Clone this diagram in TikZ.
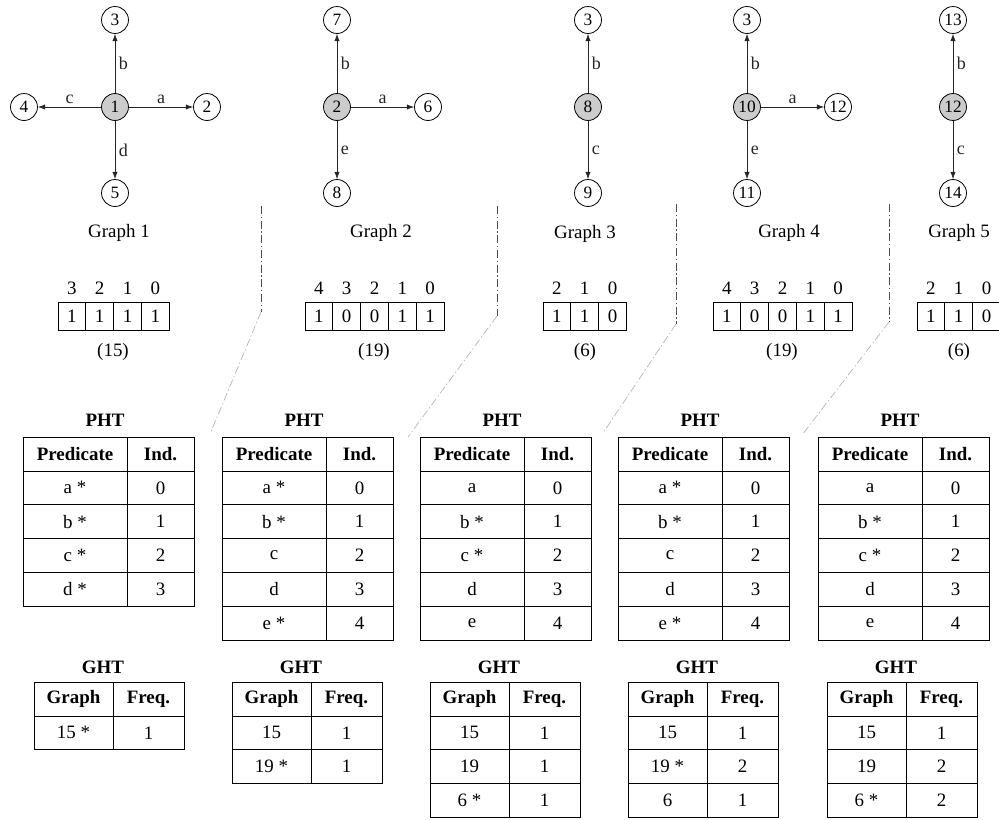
\documentclass[tikz,border=0pt]{standalone}
\usepackage{fontspec}
\setmainfont{Liberation Serif}
\usetikzlibrary{arrows.meta}

\definecolor{rootgray}{gray}{0.8}
\definecolor{sepgray}{gray}{0.3}
\definecolor{linkgray}{gray}{0.7}

\tikzset{
  vert/.style={circle, draw, line width=0.6pt, minimum size=20.2pt, inner sep=0pt, font=\fontsize{13}{14}\selectfont},
  root/.style={vert, fill=rootgray},
  edge/.style={-{Latex[length=5.5pt,width=4pt]}, line width=0.5pt, black!85},
  lbl/.style={inner sep=2.6pt, font=\fontsize{13.5}{14}\selectfont},
  caption/.style={inner sep=0pt, font=\fontsize{14.2}{16}\selectfont},
  title/.style={inner sep=0pt, font=\fontsize{14.2}{16}\selectfont\bfseries},
  bitcell/.style={draw, line width=0.6pt, minimum size=20.85pt, inner sep=0pt, font=\fontsize{14.2}{16}\selectfont},
  cell/.style={draw, line width=0.6pt, inner sep=0pt, minimum height=25.35pt, font=\fontsize{14.2}{16}\selectfont},
  head/.style={font=\fontsize{14.2}{16}\selectfont\bfseries},
  pcol/.style={cell, minimum width=78pt},
  icol/.style={cell, minimum width=50.25pt},
  gcol/.style={cell, minimum width=59.25pt},
  fcol/.style={cell, minimum width=53.25pt},
  sepline/.style={sepgray, line width=0.6pt, dash pattern=on 6pt off 2pt on 1pt off 2pt},
  seplink/.style={linkgray, line width=0.5pt, dash pattern=on 6pt off 2pt on 1pt off 2pt}
}

% bit array: name, left x, index/bit list, centre x, value
\newcommand{\bitrow}[5]{%
  \foreach \i/\b [count=\k] in {#3} {
    \node[caption] (#1i\k) at (#2+27.8*\k-13.9,288) {\i};
    \node[bitcell] (#1b\k) at (#2+27.8*\k-13.9,316) {\b};
  }
  \node[caption] (#1v) at (#4,352) {#5};
}

% predicate table: name, left x, rows
\newcommand{\phtable}[3]{%
  \node[title] (#1t) at (#2+82,420) {PHT};
  \node[pcol,head] (#1h) at (#2+52,454) {Predicate};
  \node[icol,head] (#1i) at (#2+137.5,454) {Ind.};
  \foreach \p/\v [count=\r] in {#3} {
    \node[pcol] (#1p\r) at (#2+52,454+33.8*\r) {\p};
    \node[icol] (#1v\r) at (#2+137.5,454+33.8*\r) {\v};
  }
}

% graph table: name, left x, rows
\newcommand{\ghtable}[3]{%
  \node[title] (#1t) at (#2+69,667) {GHT};
  \node[gcol,head] (#1h) at (#2+39.5,699) {Graph};
  \node[fcol,head] (#1f) at (#2+114.5,699) {Freq.};
  \foreach \g/\f [count=\r] in {#3} {
    \node[gcol] (#1g\r) at (#2+39.5,699+33.8*\r) {\g};
    \node[fcol] (#1f\r) at (#2+114.5,699+33.8*\r) {\f};
  }
}

\begin{document}
\begin{tikzpicture}[x=0.75pt, y=-0.75pt]
  \useasboundingbox (0,0) rectangle (999,819);

  % Graph 1
  \node[root] (g1c) at (115,107) {1};
  \node[vert] (g1n) at (115,20) {3};
  \node[vert] (g1e) at (207,107) {2};
  \node[vert] (g1w) at (24,107) {4};
  \node[vert] (g1s) at (115,193) {5};
  \draw[edge] (g1c) to node[lbl,above] {a} (g1e);
  \draw[edge] (g1c) to node[lbl,right] {b} (g1n);
  \draw[edge] (g1c) to node[lbl,above] {c} (g1w);
  \draw[edge] (g1c) to node[lbl,right] {d} (g1s);
  \node[caption] (g1l) at (119,233) {Graph 1};

  % Graph 2
  \node[root] (g2c) at (337,107) {2};
  \node[vert] (g2n) at (337,20) {7};
  \node[vert] (g2e) at (428,107) {6};
  \node[vert] (g2s) at (337,193) {8};
  \draw[edge] (g2c) to node[lbl,above] {a} (g2e);
  \draw[edge] (g2c) to node[lbl,right] {b} (g2n);
  \draw[edge] (g2c) to node[lbl,right] {e} (g2s);
  \node[caption] (g2l) at (381,233) {Graph 2};

  % Graph 3
  \node[root] (g3c) at (588,107) {8};
  \node[vert] (g3n) at (588,20) {3};
  \node[vert] (g3s) at (588,193) {9};
  \draw[edge] (g3c) to node[lbl,right] {b} (g3n);
  \draw[edge] (g3c) to node[lbl,right] {c} (g3s);
  \node[caption] (g3l) at (585,234) {Graph 3};

  % Graph 4
  \node[root] (g4c) at (747,107) {10};
  \node[vert] (g4n) at (747,20) {3};
  \node[vert] (g4e) at (838,107) {12};
  \node[vert] (g4s) at (747,193) {11};
  \draw[edge] (g4c) to node[lbl,above] {a} (g4e);
  \draw[edge] (g4c) to node[lbl,right] {b} (g4n);
  \draw[edge] (g4c) to node[lbl,right] {e} (g4s);
  \node[caption] (g4l) at (789,233) {Graph 4};

  % Graph 5
  \node[root] (g5c) at (953,107) {12};
  \node[vert] (g5n) at (953,20) {13};
  \node[vert] (g5s) at (953,193) {14};
  \draw[edge] (g5c) to node[lbl,right] {b} (g5n);
  \draw[edge] (g5c) to node[lbl,right] {c} (g5s);
  \node[caption] (g5l) at (959,233) {Graph 5};

  % bit arrays
  \bitrow{b1}{58}{3/1,2/1,1/1,0/1}{113}{(15)}
  \bitrow{b2}{305}{4/1,3/0,2/0,1/1,0/1}{374}{(19)}
  \bitrow{b3}{543}{2/1,1/1,0/0}{585}{(6)}
  \bitrow{b4}{713}{4/1,3/0,2/0,1/1,0/1}{782}{(19)}
  \bitrow{b5}{917}{2/1,1/1,0/0}{959}{(6)}

  % separators
  \coordinate (s1a) at (261,206); \coordinate (s1b) at (261,312); \coordinate (s1c) at (210,434);
  \coordinate (s2a) at (497,206); \coordinate (s2b) at (497,316); \coordinate (s2c) at (408,437);
  \coordinate (s3a) at (676,204); \coordinate (s3b) at (676,324); \coordinate (s3c) at (603,433);
  \coordinate (s4a) at (889,204); \coordinate (s4b) at (889,322); \coordinate (s4c) at (802,435);
  \foreach \s in {1,2,3,4} {
    \draw[sepline] (s\s a) -- (s\s b);
    \draw[seplink] (s\s b) -- (s\s c);
  }

  % PHT tables
  \phtable{p1}{23}{a */0, b */1, c */2, d */3}
  \phtable{p2}{222}{a */0, b */1, c/2, d/3, e */4}
  \phtable{p3}{420}{a/0, b */1, c */2, d/3, e/4}
  \phtable{p4}{618}{a */0, b */1, c/2, d/3, e */4}
  \phtable{p5}{818}{a/0, b */1, c */2, d/3, e/4}

  % GHT tables
  \ghtable{h1}{34}{15 */1}
  \ghtable{h2}{232}{15/1, 19 */1}
  \ghtable{h3}{430}{15/1, 19/1, 6 */1}
  \ghtable{h4}{628}{15/1, 19 */2, 6/1}
  \ghtable{h5}{827}{15/1, 19/2, 6 */2}
\end{tikzpicture}
\end{document}
